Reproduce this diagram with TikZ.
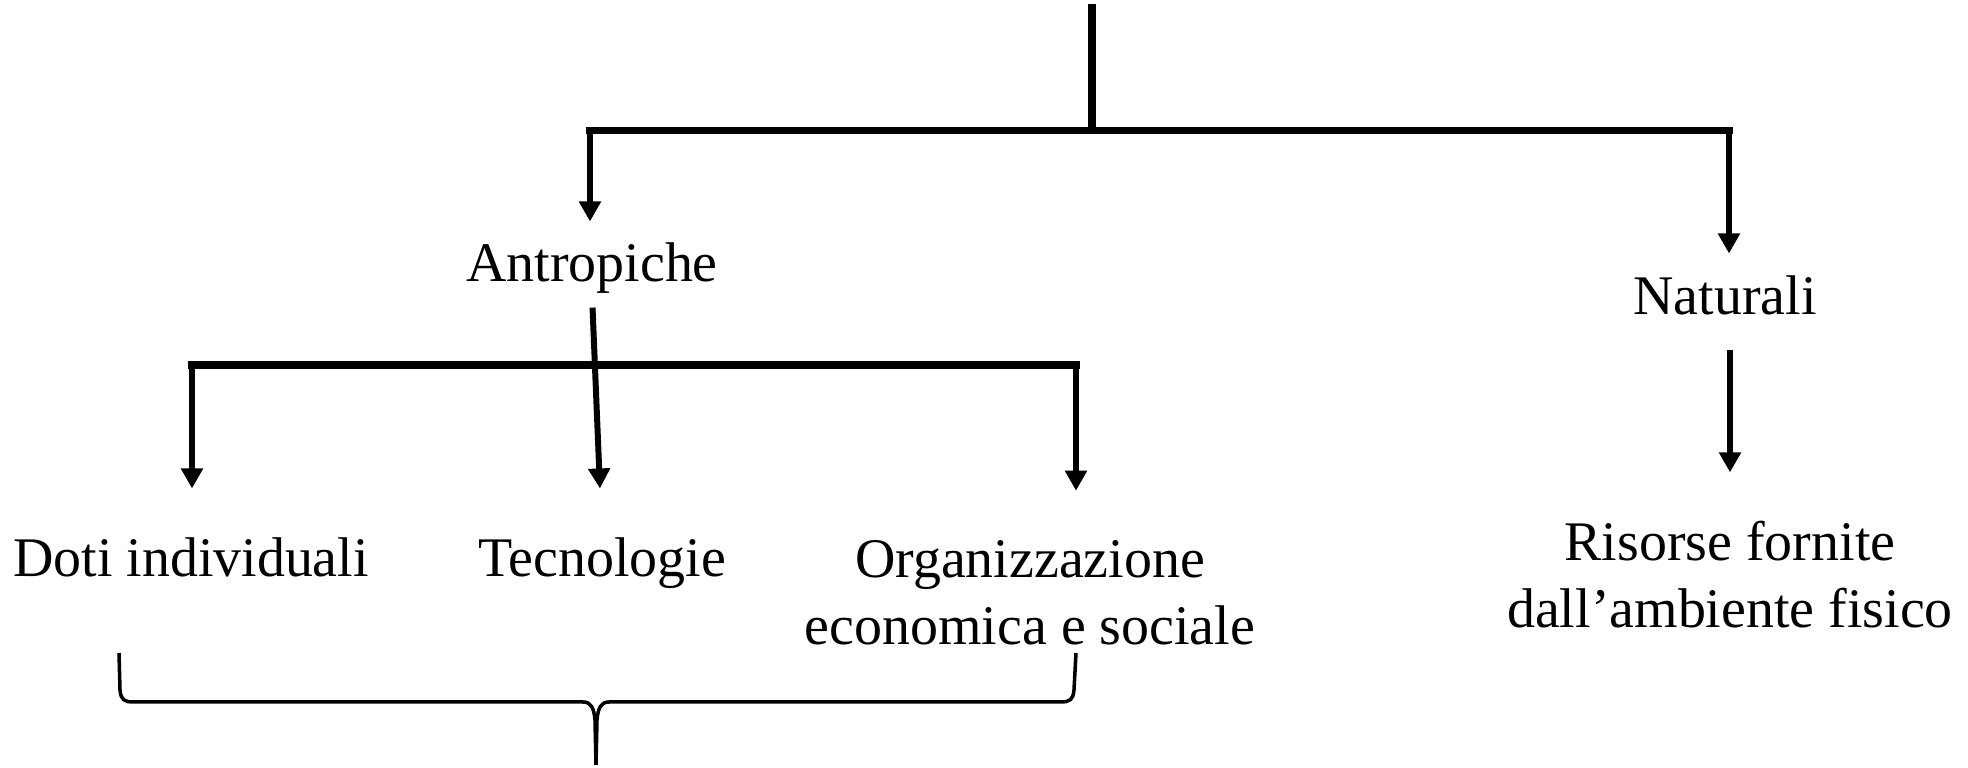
\documentclass[tikz,border=0pt]{standalone}
\usepackage{fontspec}
\setmainfont{Liberation Serif}
\usetikzlibrary{arrows.meta,calc}
\tikzset{
  treetxt/.style={inner sep=0pt, anchor=base, align=center,
                  font=\fontsize{15.9}{19.2}\selectfont},
  treebar/.style={line width=2pt, line cap=rect},
  treearr/.style={-{Triangle[length=5.7pt,width=6pt]}, line width=1.7pt},
  bracelin/.style={line width=1pt, line join=round},
}
\begin{document}
\begin{tikzpicture}[x=0.01cm,y=-0.01cm]
\useasboundingbox (0,0) rectangle (1968,768);
% text nodes
\node[treetxt] (antr) at (592,282) {Antropiche};
\node[treetxt] (natu) at (1725,315) {Naturali};
\node[treetxt] (doti) at (191,577) {Doti individuali};
\node[treetxt] (tecn) at (602,577) {Tecnologie};
\node[treetxt] (orga) at (1030,645) {Organizzazione\\economica e sociale};
\node[treetxt] (riso) at (1730,628) {Risorse fornite\\dall'ambiente fisico};
% junctions of the bars
\coordinate (top) at (1092,8);
\coordinate (bar1) at (1092,131);
\coordinate (b1w) at (590,131);
\coordinate (b1e) at (1729,131);
\coordinate (b2w) at (192,365);
\coordinate (b2e) at (1076,365);
\draw[treebar] (top) -- (bar1);
\draw[treebar] (b1w) -- (b1e);
\draw[treebar] (b2w) -- (b2e);
% arrows
\draw[treearr, shorten >=0.21cm] (b1w) -- (b1w |- antr.north);
\draw[treearr, shorten >=0.22cm] (b1e) -- (b1e |- natu.north);
\draw[treearr, shorten <=0.13cm, shorten >=0.49cm] (antr.south) -- (tecn.north);
\draw[treearr, shorten >=0.49cm] (b2w) -- (b2w |- doti.north);
\draw[treearr, shorten >=0.49cm] (b2e) -- (b2e |- orga.north);
\draw[treearr, shorten <=0.34cm, shorten >=0.48cm] (riso.north |- natu.south) -- (riso.north);
% brace under the three items
\draw[bracelin] (119,653) -- (120,690) .. controls (121,700) and (124,702) .. (134,702)
  -- (583,702) .. controls (591,702) and (594,708) .. (595,720) -- (596,765);
\draw[bracelin] (1076,653) -- (1074,690) .. controls (1073,700) and (1070,702) .. (1060,702)
  -- (609,702) .. controls (601,702) and (598,708) .. (597,720) -- (596,765);
\end{tikzpicture}
\end{document}
